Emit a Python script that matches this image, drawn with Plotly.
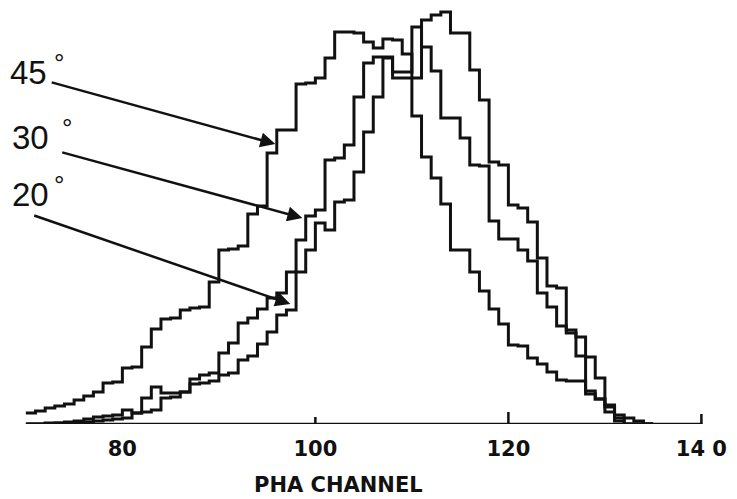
import plotly.graph_objects as go

# PHA channel of each histogram bin (bin c spans [c, c+1))
channels = list(range(70, 135))

# Relative counts per channel for the three incidence angles
counts_45 = [11, 13, 16, 18, 20, 24, 28, 32, 41, 42,
             56, 57, 77, 95, 105, 106, 114, 116, 117, 142,
             174, 175, 178, 210, 218, 271, 294, 294, 340, 341,
             346, 366, 392, 392, 391, 382, 376, 385, 384, 370,
             308, 267, 246, 220, 174, 174, 152, 133, 115, 100,
             79, 78, 66, 60, 52, 44, 43, 43, 30, 25,
             12, 3, 0, 0, 0]
counts_30 = [0, 0, 1, 1, 2, 3, 5, 7, 8, 9,
             14, 11, 26, 37, 31, 31, 32, 45, 49, 51,
             71, 81, 101, 106, 115, 126, 131, 152, 184, 208,
             214, 264, 266, 279, 327, 361, 367, 367, 352, 352,
             397, 377, 353, 306, 306, 286, 259, 258, 203, 185,
             185, 174, 163, 131, 117, 98, 91, 68, 33, 25,
             19, 6, 0, 0, 0]
counts_20 = [0, 0, 0, 1, 1, 1, 2, 3, 4, 5,
             6, 11, 12, 14, 26, 27, 32, 40, 41, 43,
             49, 51, 64, 68, 80, 92, 109, 114, 152, 174,
             201, 194, 222, 224, 252, 292, 327, 366, 346, 346,
             346, 404, 409, 412, 391, 391, 354, 324, 262, 259,
             219, 216, 202, 166, 138, 136, 94, 87, 67, 46,
             17, 9, 6, 3, 0]

series = [("45°", counts_45), ("30°", counts_30), ("20°", counts_20)]

# Axis ticks
tick_vals = [80, 100, 120, 140]
tick_text = ["80", "100", "120", "14 0"]

INK = "#111111"

fig = go.Figure()
edges = channels + [channels[-1] + 1]
for name, vals in series:
    fig.add_trace(go.Scatter(
        x=edges, y=vals + [vals[-1]], mode="lines", name=name,
        line=dict(color=INK, width=3, shape="hv"),
        cliponaxis=False, hoverinfo="skip", showlegend=False,
    ))

# Baseline of the channel axis and its small upward tick marks
shapes = [dict(type="line", xref="x", yref="y", x0=70.3, x1=140.1, y0=0, y1=0,
               line=dict(color=INK, width=2.5))]
for xv, ln in [(100, 7), (120, 12), (140, 10)]:
    shapes.append(dict(type="line", xref="x", yref="y", x0=xv, x1=xv, y0=0, y1=ln,
                       line=dict(color=INK, width=2.5)))

annotations = []
# Angle labels with leader arrows pointing at each histogram
label_font = dict(family="Liberation Sans, Arial, sans-serif", size=33, color=INK)
deg_font = dict(family="Liberation Sans, Arial, sans-serif", size=26, color=INK)
leaders = [
    # (label, text pos, degree pos, arrow tail, arrow tip)
    ("45", (70.30, 352), (73.43, 361), (72.52, 342), (95.85, 280)),
    ("30", (70.51, 287), (74.26, 296), (73.61, 272), (98.65, 206)),
    ("20", (70.51, 230), (73.43, 239), (70.71, 209), (97.40, 120)),
]
for txt, tpos, dpos, tail, tip in leaders:
    annotations.append(dict(x=tpos[0], y=tpos[1], xref="x", yref="y", text=txt,
                            showarrow=False, font=label_font,
                            xanchor="center", yanchor="middle"))
    annotations.append(dict(x=dpos[0], y=dpos[1], xref="x", yref="y", text="°",
                            showarrow=False, font=deg_font,
                            xanchor="center", yanchor="middle"))
    annotations.append(dict(x=tip[0], y=tip[1], xref="x", yref="y",
                            ax=tail[0], ay=tail[1], axref="x", ayref="y",
                            text="", showarrow=True, arrowhead=2, arrowsize=1.2,
                            arrowwidth=2.5, arrowcolor=INK, standoff=0))

# Axis title, placed below the plotting area
annotations.append(dict(x=102.35, y=-0.144, xref="x", yref="paper", text="PHA CHANNEL",
                        showarrow=False, xanchor="center", yanchor="middle",
                        font=dict(family="DejaVu Sans, sans-serif", size=21, color=INK,
                                  weight="bold")))

fig.update_layout(
    width=737, height=499,
    margin=dict(l=0, r=0, t=0, b=75, pad=0),
    paper_bgcolor="white", plot_bgcolor="white",
    xaxis=dict(range=[67.32, 143.69], showgrid=False, zeroline=False, showline=False,
               ticks="", tickvals=tick_vals, ticktext=tick_text, ticklabelstandoff=10,
               tickfont=dict(family="DejaVu Sans, sans-serif", size=21, color=INK, weight="bold"),
               fixedrange=True),
    yaxis=dict(range=[0, 424], visible=False, fixedrange=True),
    shapes=shapes, annotations=annotations,
)

fig.write_html("out.html")
